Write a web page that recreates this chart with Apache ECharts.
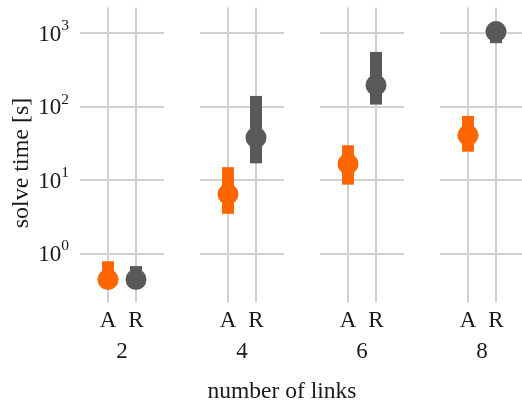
<!DOCTYPE html>
<html><head><meta charset="utf-8">
<script src="https://cdn.jsdelivr.net/npm/echarts@6/dist/echarts.min.js"></script>
<style>html,body{margin:0;padding:0;background:#fff}#c{width:522px;height:403px}</style>
</head><body><div id="c"></div>
<script>
// ---- data ----
const groups = ['2', '4', '6', '8'];          // number of links
const methods = ['A', 'R'];
const yTicks = [1, 10, 100, 1000];
const aMid  = [0.44, 6.4, 16.5, 40.5];
const aLow  = [0.38, 3.45, 8.6, 24.2];
const aHigh = [0.78, 14.9, 29.6, 74.3];
const rMid  = [0.44, 37.6, 195, 1045];
const rLow  = [0.38, 16.8, 106, 726];
const rHigh = [0.67, 139, 553, 1250];

// ---- style ----
const COLORS = ['#ff6600', '#595959'];
const FONT = 'Liberation Serif';
const FS = 23;
const TXT = '#1a1a1a';
const GRID_C = '#d0d0d0';

const grids = [], xAxes = [], yAxes = [], series = [];
groups.forEach((g, i) => {
  grids.push({left: 80 + 120 * i, top: 7.5, width: 84, height: 295, containLabel: false, outerBoundsMode: 'none'});
  xAxes.push({
    type: 'value', gridIndex: i, min: 0, max: 3,
    axisLine: {show: false},
    axisTick: {show: false, customValues: [1, 2]},
    axisLabel: {customValues: [1, 2], formatter: v => methods[v - 1], fontSize: FS, fontFamily: FONT, color: TXT, margin: 7},
    splitLine: {show: true, lineStyle: {color: GRID_C, width: 2}},
    name: g, nameLocation: 'middle', nameGap: 38,
    nameTextStyle: {fontSize: FS, fontFamily: FONT, color: TXT}
  });
  yAxes.push({
    type: 'log', gridIndex: i, min: 0.214, max: 2223,
    axisLine: {show: false},
    axisTick: {show: false, customValues: yTicks},
    axisLabel: {
      show: i === 0, customValues: yTicks, margin: 11, padding: [4, 0, 0, 0],
      formatter: v => '{b|10}{s|' + Math.round(Math.log10(v)) + '}',
      rich: {
        b: {fontSize: FS, fontFamily: FONT, color: TXT, lineHeight: 34},
        s: {fontSize: 15.5, fontFamily: FONT, color: TXT, lineHeight: 15, verticalAlign: 'top'}
      }
    },
    splitLine: {show: true, lineStyle: {color: GRID_C, width: 2}},
    name: i === 0 ? 'solve time [s]' : '', nameLocation: 'middle', nameGap: 46,
    nameTextStyle: {fontSize: 24, fontFamily: FONT, color: TXT, padding: [0, 16, 0, 0]}
  });
  const lows = [aLow[i], rLow[i]], highs = [aHigh[i], rHigh[i]], mids = [aMid[i], rMid[i]];
  series.push({
    type: 'custom', xAxisIndex: i, yAxisIndex: i, z: 2, silent: true,
    data: methods.map((m, j) => [j + 1, lows[j], highs[j]]),
    renderItem(params, api) {
      const x = api.value(0);
      const p1 = api.coord([x, api.value(1)]);
      const p2 = api.coord([x, api.value(2)]);
      return {type: 'rect', shape: {x: p1[0] - 6, y: p2[1], width: 12, height: p1[1] - p2[1]},
              style: {fill: COLORS[params.dataIndex]}};
    }
  });
  series.push({
    type: 'scatter', xAxisIndex: i, yAxisIndex: i, z: 3, silent: true,
    symbol: 'circle', symbolSize: 21,
    data: methods.map((m, j) => ({value: [j + 1, mids[j]], itemStyle: {color: COLORS[j], opacity: 1}}))
  });
});

const chart = echarts.init(document.getElementById('c'), null, {renderer: 'canvas'});
chart.setOption({
  animation: false,
  backgroundColor: '#fff',
  grid: grids, xAxis: xAxes, yAxis: yAxes, series: series,
  graphic: [{type: 'text', x: 282, y: 392,
    style: {text: 'number of links', textAlign: 'center', textVerticalAlign: 'middle',
            fontSize: 23.5, fontFamily: FONT, fill: TXT}}]
});
</script></body></html>
